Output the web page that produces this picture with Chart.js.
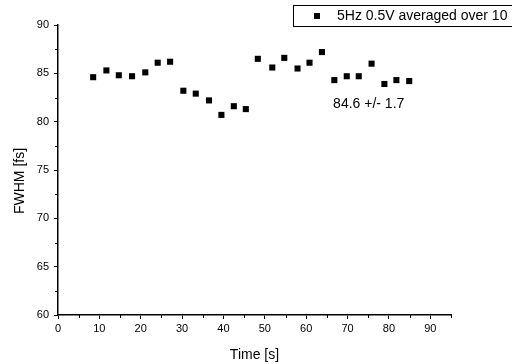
<!DOCTYPE html>
<html>
<head>
<meta charset="utf-8">
<script src="https://cdn.jsdelivr.net/npm/chart.js@4/dist/chart.umd.min.js"></script>
<style>
  html, body { margin: 0; padding: 0; background: #fff; }
  #wrap { width: 512px; height: 364px; }
</style>
</head>
<body>
<div id="wrap"><canvas id="fwhmChart" width="512" height="364"></canvas></div>
<script>
const seriesLabel = "5Hz 0.5V averaged over 10";
const timeS = [8.5, 11.7, 14.7, 17.9, 21.1, 24.1, 27.1, 30.3, 33.3, 36.5, 39.5, 42.5, 45.4,
  48.3, 51.8, 54.7, 57.9, 60.8, 63.8, 66.8, 69.8, 72.7, 75.8, 78.9, 81.8, 84.9];
const fwhmFs = [84.6, 85.3, 84.8, 84.7, 85.1, 86.1, 86.2, 83.2, 82.9, 82.2, 80.7, 81.6, 81.3,
  86.5, 85.6, 86.6, 85.5, 86.1, 87.2, 84.3, 84.7, 84.7, 86.0, 83.9, 84.3, 84.2];
const xMinorTicks = [5, 15, 25, 35, 45, 55, 65, 75, 85, 95];
const yMinorTicks = [62.5, 67.5, 72.5, 77.5, 82.5, 87.5];
const yTitle = "FWHM [fs]";
const noteText = "84.6 +/- 1.7";
const notePos = { x: 66.5, y: 81.8 };

const FONT = "'Liberation Sans', Arial, sans-serif";
Chart.defaults.font.family = FONT;
Chart.defaults.color = "#000";

const points = timeS.map((t, i) => ({ x: t, y: fwhmFs[i] }));

// minor ticks, y title, legend box and note text
const extrasPlugin = {
  id: "extras",
  afterDraw(chart) {
    const ctx = chart.ctx;
    const xs = chart.scales.x;
    const ys = chart.scales.y;
    const area = chart.chartArea;

    ctx.save();
    ctx.strokeStyle = "#000";
    ctx.lineWidth = 1;
    xMinorTicks.forEach((v) => {
      const px = Math.round(xs.getPixelForValue(v)) + 0.5;
      ctx.beginPath();
      ctx.moveTo(px, area.bottom);
      ctx.lineTo(px, area.bottom + 3);
      ctx.stroke();
    });
    yMinorTicks.forEach((v) => {
      const py = Math.round(ys.getPixelForValue(v)) + 0.5;
      ctx.beginPath();
      ctx.moveTo(area.left - 3, py);
      ctx.lineTo(area.left, py);
      ctx.stroke();
    });

    ctx.fillStyle = "#000";
    ctx.font = "14px " + FONT;

    // y axis title, sits a bit below the axis middle like the original
    ctx.save();
    ctx.translate(20, 181);
    ctx.rotate(-Math.PI / 2);
    ctx.textAlign = "center";
    ctx.textBaseline = "middle";
    ctx.fillText(yTitle, 0, 0);
    ctx.restore();

    // legend
    ctx.strokeRect(293.5, 5.5, 240, 21);
    ctx.fillRect(314, 13, 6, 6);
    ctx.textBaseline = "middle";
    ctx.textAlign = "left";
    ctx.fillText(seriesLabel, 337, 16.5);

    // note
    ctx.fillText(noteText, xs.getPixelForValue(notePos.x), ys.getPixelForValue(notePos.y));
    ctx.restore();
  }
};

new Chart(document.getElementById("fwhmChart"), {
  type: "scatter",
  data: {
    datasets: [
      {
        label: seriesLabel,
        data: points,
        pointStyle: "rect",
        pointRadius: 4.3,
        pointHoverRadius: 4.3,
        backgroundColor: "#000",
        borderColor: "#000",
        borderWidth: 0
      }
    ]
  },
  options: {
    responsive: false,
    animation: false,
    layout: {
      padding: { left: 0, right: 61, top: 25, bottom: 0 }
    },
    plugins: {
      legend: { display: false },
      tooltip: { enabled: false }
    },
    scales: {
      x: {
        type: "linear",
        min: 0,
        max: 95,
        afterFit(scale) {
          scale.height = 49;
        },
        border: { display: true, color: "#000", width: 1.5 },
        grid: {
          drawOnChartArea: false,
          drawTicks: true,
          tickLength: 4,
          tickWidth: 1,
          tickColor(context) {
            return context.tick && context.tick.value % 10 === 0 ? "#000" : "rgba(0,0,0,0)";
          }
        },
        ticks: {
          stepSize: 10,
          padding: 3,
          autoSkip: false,
          maxRotation: 0,
          font: { size: 11 },
          callback(value) {
            return value % 10 === 0 ? String(value) : "";
          }
        },
        title: {
          display: true,
          text: "Time [s]",
          font: { size: 14 },
          padding: { top: 2, bottom: 0 }
        }
      },
      y: {
        type: "linear",
        min: 60,
        max: 90,
        afterFit(scale) {
          scale.width = 58;
        },
        border: { display: true, color: "#000", width: 1.5 },
        grid: {
          drawOnChartArea: false,
          drawTicks: true,
          tickLength: 4,
          tickWidth: 1,
          tickColor: "#000"
        },
        ticks: {
          stepSize: 5,
          padding: 5,
          font: { size: 11 }
        },
        title: { display: false }
      }
    }
  },
  plugins: [extrasPlugin]
});
</script>
</body>
</html>
